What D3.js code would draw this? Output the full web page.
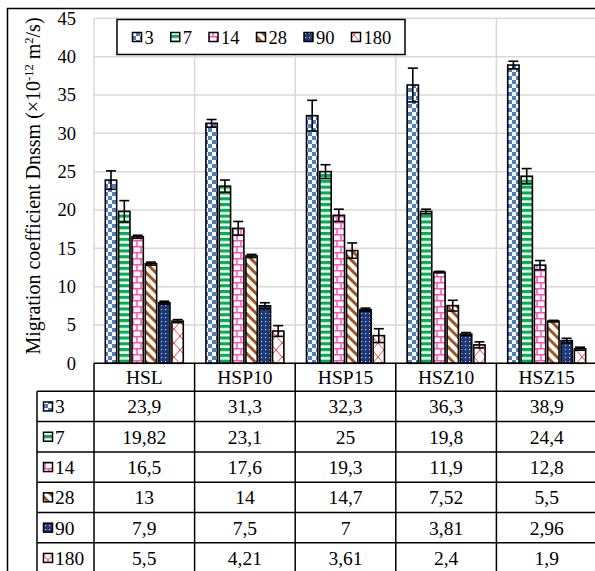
<!DOCTYPE html>
<html>
<head>
<meta charset="utf-8">
<script src="https://cdn.jsdelivr.net/npm/d3@7"></script>
<style>
  html, body { margin: 0; padding: 0; background: #fff; }
  svg { display: block; font-family: "Liberation Serif", "Times New Roman", serif; }
</style>
</head>
<body>
<svg id="chart" width="595" height="571"></svg>
<script>
// Migration coefficient by mix and curing age (days)
const categories = ["HSL", "HSP10", "HSP15", "HSZ10", "HSZ15"];
const seriesNames = ["3", "7", "14", "28", "90", "180"];
const values3   = [23.9, 31.3, 32.3, 36.3, 38.9];
const values7   = [19.82, 23.1, 25, 19.8, 24.4];
const values14  = [16.5, 17.6, 19.3, 11.9, 12.8];
const values28  = [13, 14, 14.7, 7.52, 5.5];
const values90  = [7.9, 7.5, 7, 3.81, 2.96];
const values180 = [5.5, 4.21, 3.61, 2.4, 1.9];
const errors3   = [1.2, 0.5, 2.0, 2.2, 0.5];
const errors7   = [1.4, 0.8, 0.9, 0.3, 1.0];
const errors14  = [0.2, 0.9, 0.8, 0.1, 0.6];
const errors28  = [0.2, 0.2, 1.0, 0.7, 0.1];
const errors90  = [0.2, 0.4, 0.2, 0.2, 0.3];
const errors180 = [0.2, 0.7, 0.9, 0.4, 0.2];
// labels as printed in the data table (comma decimal)
const tableText = [
  ["23,9", "31,3", "32,3", "36,3", "38,9"],
  ["19,82", "23,1", "25", "19,8", "24,4"],
  ["16,5", "17,6", "19,3", "11,9", "12,8"],
  ["13", "14", "14,7", "7,52", "5,5"],
  ["7,9", "7,5", "7", "3,81", "2,96"],
  ["5,5", "4,21", "3,61", "2,4", "1,9"]
];
const yTicks = [0, 5, 10, 15, 20, 25, 30, 35, 40, 45];

const seriesValues = [values3, values7, values14, values28, values90, values180];
const seriesErrors = [errors3, errors7, errors14, errors28, errors90, errors180];

const FONT = "'Liberation Serif', 'Times New Roman', serif";
const svg = d3.select("#chart");
const defs = svg.append("defs");

// ---- fill patterns ----
function pat(id, w, h, transform) {
  const p = defs.append("pattern").attr("id", id)
    .attr("patternUnits", "userSpaceOnUse").attr("width", w).attr("height", h);
  if (transform) p.attr("patternTransform", transform);
  p.append("rect").attr("width", w).attr("height", h).attr("fill", "#fff");
  return p;
}
// checkerboard blue
let p = pat("p3", 8, 8);
p.append("rect").attr("x", 0).attr("y", 0).attr("width", 4).attr("height", 4).attr("fill", "#4f7fc0");
p.append("rect").attr("x", 4).attr("y", 4).attr("width", 4).attr("height", 4).attr("fill", "#4f7fc0");
// wide horizontal green
p = pat("p7", 6, 5.8);
p.append("rect").attr("x", 0).attr("y", 0).attr("width", 6).attr("height", 3.2).attr("fill", "#00b050");
// pink horizontal brick
p = pat("p14", 8, 12);
p.append("path").attr("d", "M0,0.75H8M0,6.75H8M1,0.75V6.75M5,6.75V12")
  .attr("stroke", "#ff4fb8").attr("stroke-width", 1.5).attr("fill", "none");
// brown wide downward diagonal
p = pat("p28", 7, 7, "rotate(-45)");
p.append("rect").attr("x", 0).attr("y", 0).attr("width", 3).attr("height", 7).attr("fill", "#a0561e");
// navy with white dots
p = defs.append("pattern").attr("id", "p90").attr("patternUnits", "userSpaceOnUse")
  .attr("width", 4).attr("height", 4);
p.append("rect").attr("width", 4).attr("height", 4).attr("fill", "#1f3a7a");
p.append("rect").attr("x", 1).attr("y", 1).attr("width", 1.1).attr("height", 1.1).attr("fill", "#c8d4f0");
// red trellis
p = pat("p180", 12, 14);
p.append("path").attr("d", "M0,0L12,14M12,0L0,14")
  .attr("stroke", "#ff2a2a").attr("stroke-width", 0.9).attr("fill", "none");

const patternIds = ["p3", "p7", "p14", "p28", "p90", "p180"];

// ---- scales ----
const plotLeft = 94, plotRight = 597, plotTop = 18.3, plotBottom = 363.3;
const y = d3.scaleLinear().domain([0, 45]).range([plotBottom, plotTop]);
const x0 = d3.scaleBand().domain(categories).range([plotLeft, plotRight]);
const x1 = d3.scaleBand().domain(seriesNames).range([0, x0.bandwidth()])
  .paddingInner(0.15).paddingOuter(0.85);

// ---- outer frame ----
svg.append("path").attr("d", "M7.5,571V8.5H595")
  .attr("fill", "none").attr("stroke", "#000").attr("stroke-width", 1.5);

// ---- gridlines ----
const grid = svg.append("g");
grid.selectAll("line.h").data(yTicks.filter(d => d > 0)).join("line")
  .attr("x1", plotLeft).attr("x2", plotRight)
  .attr("y1", d => y(d)).attr("y2", d => y(d))
  .attr("stroke", "#d9d9d9").attr("stroke-width", 1.5);
grid.selectAll("line.v").data(categories).join("line")
  .attr("x1", d => x0(d)).attr("x2", d => x0(d))
  .attr("y1", plotTop).attr("y2", plotBottom)
  .attr("stroke", "#d9d9d9").attr("stroke-width", 1.5);

// ---- y axis labels ----
const yAxis = d3.axisLeft(y).tickValues(yTicks).tickSize(0).tickPadding(0);
const yg = svg.append("g").attr("transform", "translate(76,0)").call(yAxis)
  .attr("font-family", FONT).attr("font-size", 18.5);
yg.select(".domain").remove();
yg.selectAll("text").attr("fill", "#000");

// y axis title
const title = svg.append("text")
  .attr("transform", "translate(40,186) rotate(-90)")
  .attr("text-anchor", "middle").attr("font-size", 20).attr("fill", "#000");
title.append("tspan").text("Migration coefficient Dnssm (\u00d710");
title.append("tspan").attr("font-size", 12.5).attr("dy", -7).text("-12");
title.append("tspan").attr("dy", 7).text(" m");
title.append("tspan").attr("font-size", 12.5).attr("dy", -7).text("2");
title.append("tspan").attr("dy", 7).text("/s)");

// ---- bars ----
const barData = [];
seriesNames.forEach((s, si) => {
  categories.forEach((c, ci) => {
    barData.push({ s, si, c, v: seriesValues[si][ci], e: seriesErrors[si][ci] });
  });
});
const bars = svg.append("g");
bars.selectAll("rect").data(barData).join("rect")
  .attr("x", d => x0(d.c) + x1(d.s))
  .attr("y", d => y(d.v))
  .attr("width", x1.bandwidth())
  .attr("height", d => y(0) - y(d.v))
  .attr("fill", d => "url(#" + patternIds[d.si] + ")")
  .attr("stroke", "#000").attr("stroke-width", 1.6);

// ---- error bars ----
const eb = svg.append("g").attr("stroke", "#000").attr("stroke-width", 1.6);
const capHalf = 5;
barData.forEach(d => {
  const cx = x0(d.c) + x1(d.s) + x1.bandwidth() / 2;
  eb.append("line").attr("x1", cx).attr("x2", cx).attr("y1", y(d.v - d.e)).attr("y2", y(d.v + d.e));
  eb.append("line").attr("x1", cx - capHalf).attr("x2", cx + capHalf).attr("y1", y(d.v + d.e)).attr("y2", y(d.v + d.e));
  eb.append("line").attr("x1", cx - capHalf).attr("x2", cx + capHalf).attr("y1", y(d.v - d.e)).attr("y2", y(d.v - d.e));
});

// ---- data table ----
const headerH = 28, rowH = 30.3, keyLeft = 37;
const table = svg.append("g").attr("font-size", 19.5);
const rowTop = i => plotBottom + headerH + i * rowH;
const lineAttrs = sel => sel.attr("stroke", "#000").attr("stroke-width", 1.5);
// x axis / header top
lineAttrs(table.append("line").attr("x1", plotLeft).attr("x2", plotRight).attr("y1", plotBottom).attr("y2", plotBottom));
// row separators
d3.range(seriesNames.length + 1).forEach(i => {
  lineAttrs(table.append("line").attr("x1", keyLeft).attr("x2", plotRight)
    .attr("y1", rowTop(i)).attr("y2", rowTop(i)));
});
// column separators
lineAttrs(table.append("line").attr("x1", keyLeft).attr("x2", keyLeft).attr("y1", rowTop(0)).attr("y2", 571));
[plotLeft].concat(categories.slice(1).map(c => x0(c))).forEach(xx => {
  lineAttrs(table.append("line").attr("x1", xx).attr("x2", xx).attr("y1", plotBottom).attr("y2", 571));
});
// category header
table.selectAll("text.cat").data(categories).join("text")
  .attr("x", d => x0(d) + x0.bandwidth() / 2)
  .attr("y", plotBottom + headerH / 2 + 7)
  .attr("text-anchor", "middle").attr("fill", "#000")
  .text(d => d);
// rows
seriesNames.forEach((s, si) => {
  const cy = rowTop(si) + rowH / 2;
  table.append("rect").attr("x", 43.5).attr("y", cy - 4.5).attr("width", 9).attr("height", 9)
    .attr("fill", "url(#" + patternIds[si] + ")").attr("stroke", "#000").attr("stroke-width", 1.5);
  table.append("text").attr("x", 55).attr("y", cy + 7).attr("fill", "#000").text(s);
  categories.forEach((c, ci) => {
    table.append("text").attr("x", x0(c) + x0.bandwidth() / 2).attr("y", cy + 7)
      .attr("text-anchor", "middle").attr("fill", "#000")
      .text(tableText[si][ci]);
  });
});

// ---- legend ----
const legend = svg.append("g");
legend.append("rect").attr("x", 117).attr("y", 19.5).attr("width", 288).attr("height", 35)
  .attr("fill", "#fff").attr("stroke", "#000").attr("stroke-width", 1.5);
let lx = 132.5;
seriesNames.forEach((s, si) => {
  legend.append("rect").attr("x", lx).attr("y", 32.5).attr("width", 9).attr("height", 9)
    .attr("fill", "url(#" + patternIds[si] + ")").attr("stroke", "#000").attr("stroke-width", 1.5);
  const t = legend.append("text").attr("x", lx + 12).attr("y", 44)
    .attr("font-size", 18.5).attr("fill", "#000").text(s);
  lx += 12 + t.node().getComputedTextLength() + 17;
});
</script>
</body>
</html>
